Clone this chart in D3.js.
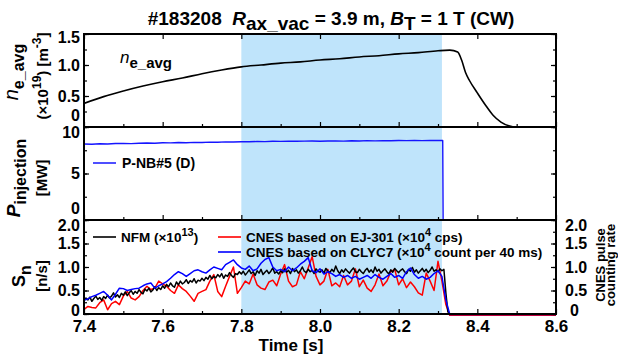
<!DOCTYPE html>
<html>
<head>
<meta charset="utf-8">
<script src="https://cdn.jsdelivr.net/npm/d3@7/dist/d3.min.js"></script>
<style>
  body { margin: 0; background: #fff; }
  svg { display: block; font-family: "Liberation Sans", Arial, sans-serif; font-weight: bold; }
</style>
</head>
<body>
<svg id="chart" width="618" height="360"></svg>
<script>
// ---- data ----
var shadeRange = [7.8, 8.31];

// line-averaged density (x1e19 m^-3)
var neTime = [7.40,7.45,7.50,7.55,7.60,7.65,7.70,7.75,7.80,7.85,7.90,7.95,8.00,8.05,8.10,8.15,8.20,8.25,8.30,8.33,8.35,8.36,8.37,8.38,8.40,8.42,8.44,8.46,8.48,8.50,8.55,8.60];
var neVal  = [0.38,0.49,0.58,0.66,0.73,0.79,0.86,0.92,0.97,1.00,1.03,1.05,1.08,1.10,1.13,1.15,1.18,1.20,1.23,1.24,1.21,1.08,0.88,0.75,0.55,0.36,0.19,0.08,0.02,0.00,0.00,0.00];

// P-NB#5 injection power (MW), sampled every 20 ms from 7.40 s
var pnbStart = 7.40, pnbStep = 0.02;
var pnbVal = [8.17,8.15,8.20,8.18,8.22,8.24,8.21,8.26,8.28,8.25,8.30,8.29,8.33,8.31,8.35,8.34,8.37,8.36,8.40,8.38,
              8.42,8.41,8.44,8.43,8.46,8.45,8.47,8.46,8.48,8.50,8.47,8.49,8.51,8.48,8.52,8.50,8.53,8.51,8.54,8.52,
              8.55,8.53,8.56,8.54,8.56,8.55];
var pnbTailTime = [8.312, 8.313, 8.60];
var pnbTailVal  = [8.55, 0, 0];

// NFM neutron rate (x1e13 n/s), every 5 ms from 7.400 s
var nfmStart = 7.40, nfmStep = 0.005;
var nfmVal = [
  0.28,0.34,0.30,0.36,0.27,0.33,0.38,0.31,0.35,0.29,0.37,0.33,0.40,0.34,0.38,0.45,0.36,0.41,0.35,0.44,
  0.40,0.47,0.39,0.45,0.50,0.42,0.48,0.44,0.52,0.46,0.43,0.53,0.49,0.55,0.47,0.51,0.58,0.50,0.56,0.52,
  0.60,0.55,0.63,0.58,0.66,0.60,0.57,0.68,0.62,0.70,0.64,0.67,0.73,0.65,0.71,0.68,0.75,0.66,0.72,0.70,
  0.76,0.71,0.78,0.74,0.82,0.75,0.80,0.77,0.84,0.79,0.86,0.76,0.83,0.80,0.88,0.82,0.78,0.86,0.84,0.90,
  0.85,0.91,0.83,0.88,0.94,0.86,0.90,0.82,0.92,0.87,0.95,0.84,0.89,0.93,0.86,0.91,0.98,0.87,0.90,0.85,
  0.92,0.88,0.96,0.89,0.93,0.86,0.97,0.90,0.94,0.87,0.92,1.00,0.91,0.88,0.95,0.90,0.93,0.86,0.96,0.91,
  0.89,0.94,0.87,0.97,0.91,0.88,0.95,0.90,1.02,0.92,0.86,0.94,0.89,0.96,0.91,0.87,0.93,0.98,0.90,0.88,
  0.95,0.90,0.86,0.93,0.97,0.89,0.94,0.88,1.00,0.91,0.95,0.87,0.92,0.96,0.90,0.85,0.94,0.89,0.97,0.92,
  0.88,0.93,0.96,0.90,0.86,0.95,0.91,0.99,0.89,0.94,0.87,0.92,0.97,0.90,0.95,0.88,0.93,1.00,0.91,0.94,
  0.90,0.96,0.92,0.95,0.45,0.05,0.00];
var nfmTailTime = [8.45, 8.60];
var nfmTailVal  = [0.00, 0.00];

// CNES counting rates, every 10 ms from 7.40 s
var cnesStart = 7.40, cnesStep = 0.01;
var ej301Val = [
  0.10,0.16,0.14,0.13,0.24,0.30,0.09,0.22,0.27,0.20,
  0.38,0.48,0.34,0.30,0.37,0.50,0.59,0.52,0.55,0.70,
  0.64,0.59,0.50,0.44,0.62,0.54,0.48,0.38,0.27,0.44,
  0.48,0.52,0.70,0.84,0.48,0.37,0.59,0.80,1.00,0.44,
  0.56,0.70,0.64,0.85,0.62,0.55,0.52,0.68,0.72,0.60,
  0.85,1.05,0.70,0.58,0.62,0.90,0.75,0.98,1.22,0.80,
  0.62,0.70,0.95,0.60,0.66,0.58,0.82,0.62,0.70,0.96,
  0.58,0.72,0.55,0.48,0.62,0.85,0.60,0.70,0.90,0.95,
  0.62,0.75,0.56,0.68,0.58,0.45,0.40,0.87,0.70,0.50,
  1.12,0.70,0.20,-0.03];
var clyc7Val = [
  0.30,0.32,0.37,0.40,0.44,0.48,0.40,0.30,0.42,0.55,
  0.54,0.50,0.52,0.54,0.55,0.60,0.64,0.66,0.55,0.60,
  0.64,0.69,0.76,0.84,0.90,0.86,0.80,0.86,0.92,0.94,
  0.90,0.87,0.94,1.00,0.97,0.94,1.05,1.10,1.15,1.05,
  0.98,0.95,1.02,0.92,0.96,1.08,1.16,1.20,1.00,0.92,
  0.95,0.90,1.00,0.92,0.98,1.06,1.12,1.20,0.92,0.88,
  0.96,0.85,0.90,0.86,0.80,0.84,0.78,0.82,0.76,0.80,
  0.74,0.78,0.82,0.76,0.84,0.78,0.74,0.80,0.86,0.78,
  0.82,0.76,0.90,0.98,0.84,0.76,0.80,0.74,0.78,0.86,
  0.92,0.80,0.30,-0.01];
var ej301TailTime = [8.45, 8.60], ej301TailVal = [-0.03, -0.03];
var clyc7TailTime = [8.45, 8.60], clyc7TailVal = [-0.01, -0.01];

var xTicks = [7.4, 7.6, 7.8, 8.0, 8.2, 8.4, 8.6];

// ---- helpers ----
function grid(start, step, vals) {
  return vals.map(function(v, i){ return [start + i*step, v]; });
}
function pairs(ts, vs) {
  return ts.map(function(t, i){ return [t, vs[i]]; });
}
// segments: {t, size, it, sh (shift down in px)}
function rich(sel, segs) {
  var prev = 0;
  segs.forEach(function(s){
    var sh = s.sh || 0;
    sel.append('tspan')
      .attr('dy', sh - prev)
      .style('font-size', (s.size || 16) + 'px')
      .style('font-style', s.it ? 'italic' : null)
      .style('font-weight', s.w || null)
      .text(s.t);
    prev = sh;
  });
  return sel;
}

var svg = d3.select('#chart');
var X0 = 84, X1 = 556;
var x = d3.scaleLinear().domain([7.4, 8.6]).range([X0, X1]);

var panels = [
  {top: 34,  bot: 127, dom: [0, 1.5], major: [0, 0.5, 1.0, 1.5], minor: d3.range(0, 1.51, 0.25), fmt: function(d){ return d === 0 ? '0' : d.toFixed(1); }},
  {top: 127, bot: 220, dom: [0, 10],  major: [0, 5, 10],         minor: d3.range(0, 10.1, 2.5),  fmt: function(d){ return String(d); }},
  {top: 220, bot: 314, dom: [0, 2.0], major: [0, 0.5, 1.0, 1.5, 2.0], minor: d3.range(0, 2.01, 0.25), fmt: function(d){ return d === 0 ? '0' : d.toFixed(1); }}
];
panels.forEach(function(p){ p.y = d3.scaleLinear().domain(p.dom).range([p.bot, p.top]); });

// shaded window
svg.append('rect')
  .attr('x', x(shadeRange[0])).attr('y', 34)
  .attr('width', x(shadeRange[1]) - x(shadeRange[0]))
  .attr('height', 314 - 34)
  .attr('fill', '#bfe4fb');

// clip per panel
panels.forEach(function(p, i){
  svg.append('clipPath').attr('id', 'clip' + i)
    .append('rect').attr('x', X0).attr('y', p.top).attr('width', X1 - X0).attr('height', p.bot - p.top + 2);
});

function drawLine(pi, data, color, width, curve) {
  var p = panels[pi];
  var line = d3.line().x(function(d){ return x(d[0]); }).y(function(d){ return p.y(d[1]); });
  if (curve) line.curve(curve);
  svg.append('path').datum(data)
    .attr('clip-path', 'url(#clip' + pi + ')')
    .attr('d', line).attr('fill', 'none')
    .attr('stroke', color).attr('stroke-width', width)
    .attr('stroke-linejoin', 'round');
}

drawLine(0, pairs(neTime, neVal), '#000', 1.6, d3.curveMonotoneX);
drawLine(1, grid(pnbStart, pnbStep, pnbVal).concat(pairs(pnbTailTime, pnbTailVal)), '#1515ff', 1.4);
drawLine(2, grid(cnesStart, cnesStep, ej301Val).concat(pairs(ej301TailTime, ej301TailVal)), '#ff0000', 1.5);
drawLine(2, grid(nfmStart, nfmStep, nfmVal).concat(pairs(nfmTailTime, nfmTailVal)), '#000', 1.5);
drawLine(2, grid(cnesStart, cnesStep, clyc7Val).concat(pairs(clyc7TailTime, clyc7TailVal)), '#0000ff', 1.5);

// axes
function styleAxis(g, size) {
  g.select('.domain').remove();
  g.selectAll('line').attr('stroke', '#000').attr('stroke-width', 1.2);
  g.selectAll('text').attr('font-family', null).style('font-size', size + 'px').attr('fill', '#000');
}
// nudge end labels apart where neighbouring panels meet
function nudge(g, p, i) {
  var lo = p.dom[0], hi = p.dom[1];
  g.selectAll('.tick').filter(function(d){ return d === lo; }).select('text')
    .attr('dy', i === 2 ? '0.08em' : '-0.42em');
  g.selectAll('.tick').filter(function(d){ return d === hi; }).select('text')
    .attr('dy', i === 0 ? '0.5em' : '0.66em');
}
panels.forEach(function(p, i){
  var gl = svg.append('g').attr('transform', 'translate(' + X0 + ',0)')
    .call(d3.axisLeft(p.y).tickValues(p.major).tickFormat(p.fmt).tickSize(-5).tickPadding(4));
  styleAxis(gl, 16);
  nudge(gl, p, i);
  var glm = svg.append('g').attr('transform', 'translate(' + X0 + ',0)')
    .call(d3.axisLeft(p.y).tickValues(p.minor).tickFormat('').tickSize(-3));
  styleAxis(glm, 16);

  var gr = svg.append('g').attr('transform', 'translate(' + X1 + ',0)')
    .call(d3.axisRight(p.y).tickValues(p.major).tickFormat(i === 2 ? p.fmt : '').tickSize(-5).tickPadding(9));
  styleAxis(gr, 16);
  nudge(gr, p, i);
  gr.selectAll('.tick').filter(function(d){ return d === 0; }).select('text').attr('dx', 5);
  var grm = svg.append('g').attr('transform', 'translate(' + X1 + ',0)')
    .call(d3.axisRight(p.y).tickValues(p.minor).tickFormat('').tickSize(-3));
  styleAxis(grm, 16);

  var gb = svg.append('g').attr('transform', 'translate(0,' + p.bot + ')')
    .call(d3.axisBottom(x).tickValues(xTicks).tickFormat(i === 2 ? d3.format('.1f') : '').tickSize(-5).tickPadding(6));
  styleAxis(gb, 17);
  var gbm = svg.append('g').attr('transform', 'translate(0,' + p.bot + ')')
    .call(d3.axisBottom(x).tickValues(d3.range(7.5, 8.6, 0.2)).tickFormat('').tickSize(-3));
  styleAxis(gbm, 17);
  if (i === 0) {
    var gt = svg.append('g').attr('transform', 'translate(0,' + p.top + ')')
      .call(d3.axisTop(x).tickValues(xTicks).tickFormat('').tickSize(-5));
    styleAxis(gt, 17);
  }
});

// frames
panels.forEach(function(p){
  svg.append('rect').attr('x', X0).attr('y', p.top).attr('width', X1 - X0).attr('height', p.bot - p.top)
    .attr('fill', 'none').attr('stroke', '#000').attr('stroke-width', 2);
});

// title
var title = svg.append('text').attr('x', 331).attr('y', 25).attr('text-anchor', 'middle');
rich(title, [
  {t: '#183208\u00a0\u00a0', size: 19},
  {t: 'R', size: 19, it: true},
  {t: 'ax_vac', size: 19, sh: 5},
  {t: ' = 3.9 m, ', size: 19},
  {t: 'B', size: 19, it: true},
  {t: 'T', size: 19, sh: 5},
  {t: ' = 1 T (CW)', size: 19}
]);

// y labels (rotated)
function ylab(tx, ty, segs) {
  var t = svg.append('text').attr('transform', 'translate(' + tx + ',' + ty + ') rotate(-90)').attr('text-anchor', 'middle');
  return rich(t, segs);
}
ylab(18, 72, [{t: 'n', size: 20, it: true, w: 'normal'}, {t: 'e_avg', size: 16, sh: 6}]);
ylab(48, 76, [{t: '(\u00d710', size: 15}, {t: '19', size: 12, sh: -7}, {t: ') [m', size: 15}, {t: '-3', size: 12, sh: -7}, {t: ']', size: 15}]);
ylab(20, 178, [{t: 'P', size: 19, it: true}, {t: 'injection', size: 16, sh: 6}]);
ylab(47, 178, [{t: '[MW]', size: 15}]);
ylab(25, 276, [{t: 'S', size: 18}, {t: 'n', size: 16, sh: 6}]);
ylab(47, 276, [{t: '[n/s]', size: 15}]);
ylab(605, 265, [{t: 'CNES pulse', size: 13}]);
ylab(615, 265, [{t: 'counting rate', size: 13}]);

// x label
svg.append('text').attr('x', 291).attr('y', 351).attr('text-anchor', 'middle')
  .style('font-size', '17px').text('Time [s]');

// panel legends
var l1 = svg.append('text').attr('x', 120).attr('y', 63);
rich(l1, [{t: 'n', size: 17, it: true, w: 'normal'}, {t: 'e_avg', size: 15, sh: 5}]);

svg.append('line').attr('x1', 93).attr('x2', 116).attr('y1', 163).attr('y2', 163)
  .attr('stroke', '#1515ff').attr('stroke-width', 1.5);
svg.append('text').attr('x', 122).attr('y', 168).style('font-size', '14px').text('P-NB#5 (D)');

var legend3 = [
  {x: 93,  y: 237, color: '#000', segs: [{t: 'NFM (\u00d710', size: 13.5}, {t: '13', size: 11, sh: -6}, {t: ')', size: 13.5}]},
  {x: 218, y: 237, color: '#ff0000', segs: [{t: 'CNES based on EJ-301 (\u00d710', size: 13.5}, {t: '4', size: 11, sh: -6}, {t: ' cps)', size: 13.5}]},
  {x: 218, y: 252, color: '#0000ff', segs: [{t: 'CNES based on CLYC7 (\u00d710', size: 13.5}, {t: '4', size: 11, sh: -6}, {t: ' count per 40 ms)', size: 13.5}]}
];
legend3.forEach(function(l){
  svg.append('line').attr('x1', l.x).attr('x2', l.x + 23).attr('y1', l.y).attr('y2', l.y)
    .attr('stroke', l.color).attr('stroke-width', 1.6);
  rich(svg.append('text').attr('x', l.x + 28).attr('y', l.y + 5), l.segs);
});
</script>
</body>
</html>
